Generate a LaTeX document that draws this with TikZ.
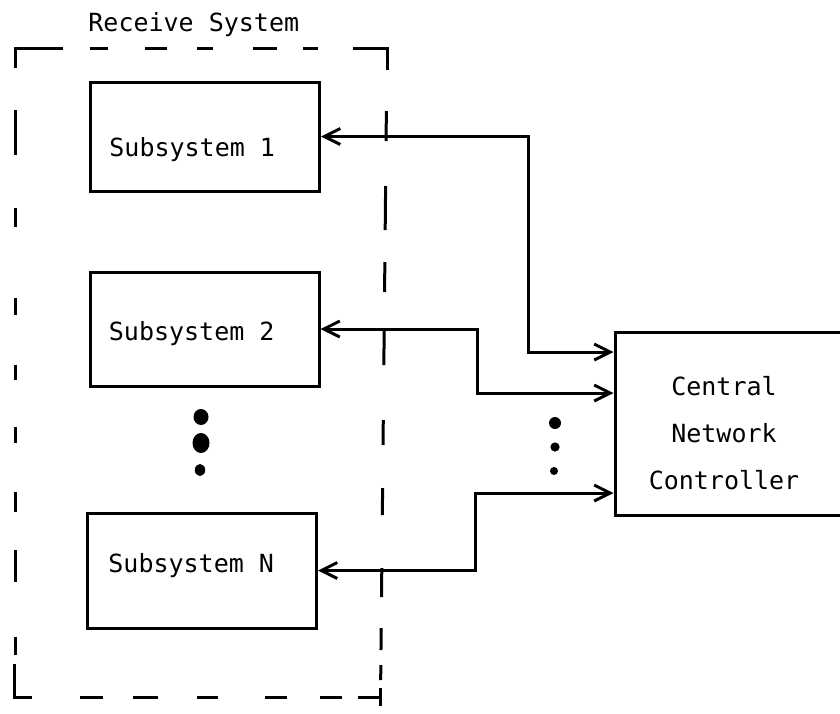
\documentclass[tikz,border=0pt]{standalone}
\usepackage{fontspec}
\setmonofont{DejaVu Sans Mono}
\usetikzlibrary{arrows.meta}
\tikzset{
  txt/.style={font=\ttfamily\fontsize{12.5}{23.5}\selectfont, inner sep=0pt},
  subbox/.style={draw, line width=1.5pt, rectangle, minimum width=114.5pt},
  link/.style={line width=1.5pt, {Straight Barb[length=8pt,width=8pt]}-{Straight Barb[length=8pt,width=8pt]}},
  frame/.style={line width=1.5pt},
  dot/.style={fill=black},
}
\begin{document}
\begin{tikzpicture}[x=0.5pt,y=-0.5pt]
\useasboundingbox (0,0) rectangle (840,713);

% title of the enclosing system
\node[txt, anchor=base west] (title) at (88,31) {Receive System};

% hand-ruled dashed boundary of the receive system
\draw[frame] (15,68) -- (15,48) -- (63,48);
\draw[frame] (353,48) -- (387,48) -- (387,70);
\draw[frame] (14,664) -- (14,697) -- (32,697);
\draw[frame] (358,697) -- (380,697);
\draw[frame] (380,688) -- (380,706);
\foreach \a/\b in {90/108, 145/167, 197/213, 253/277, 303/318}
  \draw[frame] (\a,48) -- (\b,48);
\foreach \a/\b in {80/103, 133/158, 197/218, 265/287, 320/342}
  \draw[frame] (\a,697) -- (\b,697);
\foreach \a/\b in {110/155, 208/227, 298/315, 365/380, 427/443, 492/512, 550/582, 637/655}
  \draw[frame] (15,\a) -- (15,\b);
\foreach \a/\b in {111/141, 186/230, 262/292, 330/365, 420/445, 488/515, 568/597, 628/650, 665/680}
  \draw[frame] ({387-(\a-48)*0.01},\a) -- ({387-(\b-48)*0.01},\b);

% subsystems
\node[subbox, minimum height=54.5pt] (s1) at (205,136.5) {};
\node[subbox, minimum height=57pt] (s2) at (204.5,329) {};
\node[subbox, minimum height=57.5pt] (sN) at (202,570.5) {};
\node[txt, anchor=west] (s1t) at ([xshift=10pt, yshift=-6.5pt]s1.west) {Subsystem 1};
\node[txt, anchor=west] (s2t) at ([xshift=10pt, yshift=-2.5pt]s2.west) {Subsystem 2};
\node[txt, anchor=west] (sNt) at ([xshift=11pt, yshift=2.5pt]sN.west) {Subsystem N};

% ellipsis between subsystems
\fill[dot] (201,417) ellipse [x radius=3.75pt, y radius=4pt];
\fill[dot] (201,443) ellipse [x radius=4.25pt, y radius=5pt];
\fill[dot] (200,470) ellipse [x radius=2.6pt, y radius=3pt];

% central controller (extends past the right edge)
\node[draw, line width=1.5pt, rectangle, minimum width=117.5pt, minimum height=91.5pt] (cnc) at (732.5,423.5) {};
\node[txt, align=center] (cnctext) at (724,433) {Central\\Network\\Controller};

% bus connections
\coordinate (k1) at (528,352);
\coordinate (k2) at (477,393);
\coordinate (k3) at (475,493);
\draw[link] (s1.east) -- (s1.east -| k1) -- (k1) -- (k1 -| cnc.west);
\draw[link] (s2.east) -- (s2.east -| k2) -- (k2) -- (k2 -| cnc.west);
\draw[link] (sN.east) -- (sN.east -| k3) -- (k3) -- (k3 -| cnc.west);

% ellipsis between connections
\fill[dot] (555,423) circle [radius=3pt];
\fill[dot] (555,447) circle [radius=2.3pt];
\fill[dot] (554,471) circle [radius=2pt];
\end{tikzpicture}
\end{document}
